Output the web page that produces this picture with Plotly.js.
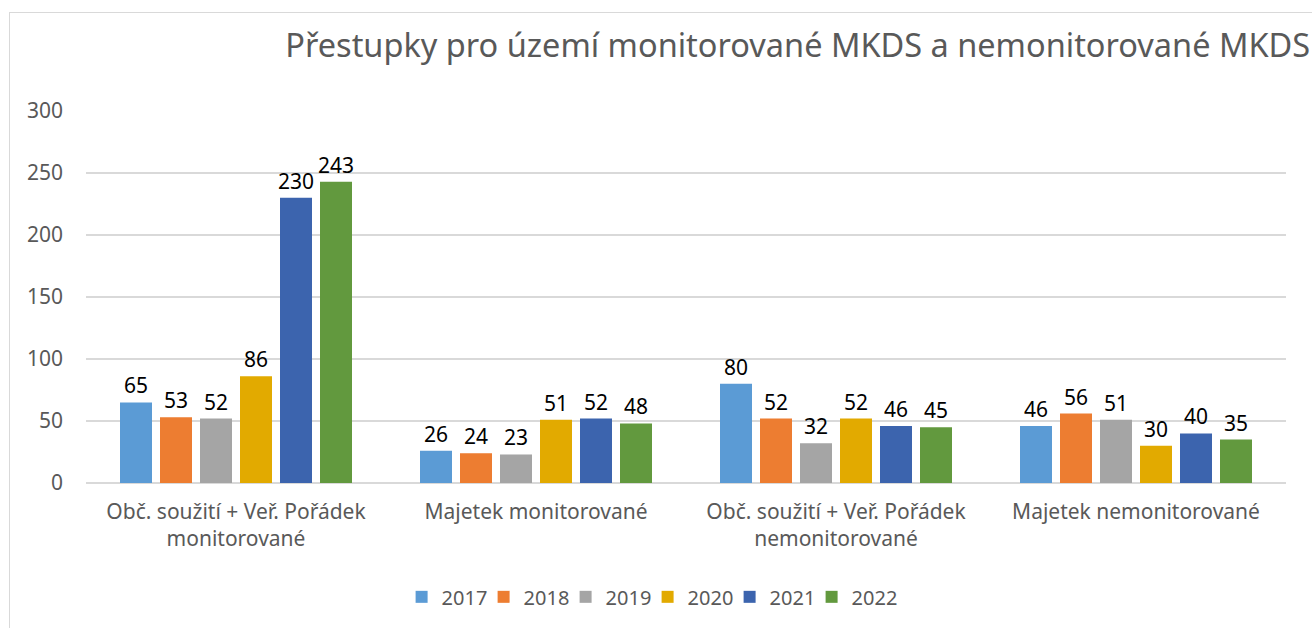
<!DOCTYPE html>
<html>
<head>
<meta charset="utf-8">
<script src="https://cdn.plot.ly/plotly-3.0.1.min.js"></script>
<style>
html,body{margin:0;padding:0;background:#fff;}
#frame{position:absolute;left:9px;top:12px;width:1310px;height:620px;border-left:1px solid #d9d9d9;border-top:1px solid #d9d9d9;}
#chart{position:absolute;left:0;top:0;width:1312px;height:628px;}
</style>
</head>
<body>
<div id="frame"></div>
<div id="chart"></div>
<script>
const categories = [
  "Obč. soužití + Veř. Pořádek<br>monitorované",
  "Majetek monitorované",
  "Obč. soužití + Veř. Pořádek<br>nemonitorované",
  "Majetek nemonitorované"
];
const years = ["2017","2018","2019","2020","2021","2022"];
const v2017 = [65, 26, 80, 46];
const v2018 = [53, 24, 52, 56];
const v2019 = [52, 23, 32, 51];
const v2020 = [86, 51, 52, 30];
const v2021 = [230, 52, 46, 40];
const v2022 = [243, 48, 45, 35];
const series = [v2017, v2018, v2019, v2020, v2021, v2022];
const colors = ["#5B9BD5","#ED7D31","#A5A5A5","#E2AA00","#3C64AE","#62993E"];
const FONT = "Noto Sans, Open Sans, sans-serif";

const traces = series.map((vals, i) => ({
  type: "bar",
  name: years[i],
  x: categories,
  y: vals,
  marker: {color: colors[i]},
  text: vals.map(String),
  textposition: "outside",
  constraintext: "none",
  textfont: {family: FONT, size: 21, color: "#000"},
  cliponaxis: false,
  hoverinfo: "x+y+name"
}));

const layout = {
  width: 1312, height: 628,
  paper_bgcolor: "rgba(0,0,0,0)",
  plot_bgcolor: "rgba(0,0,0,0)",
  margin: {l: 86, r: 26, t: 111, b: 145},
  barmode: "group",
  bargap: 0.2,
  bargroupgap: 0.2,
  font: {family: FONT, color: "#595959", size: 20},
  title: {
    text: "Přestupky pro území monitorované MKDS a nemonitorované MKDS",
    font: {family: FONT, size: 32.5, color: "#595959"},
    xref: "container", x: 0.608, xanchor: "center",
    yref: "container", y: 0.928, yanchor: "middle"
  },
  xaxis: {
    showgrid: false, zeroline: false, showline: false,
    ticks: "", ticklabelstandoff: 14,
    tickfont: {family: FONT, size: 21, color: "#595959"}
  },
  yaxis: {
    range: [0, 300], dtick: 50, tick0: 0,
    showgrid: true, gridcolor: "#d9d9d9", gridwidth: 1.5,
    zeroline: true, zerolinecolor: "#d9d9d9", zerolinewidth: 1.5,
    showline: false, ticks: "", ticklabelstandoff: 22,
    tickfont: {family: FONT, size: 21, color: "#595959"}
  },
  showlegend: true,
  legend: {
    orientation: "h",
    x: 0.468, xanchor: "center",
    y: -0.306, yanchor: "middle",
    font: {family: FONT, size: 20, color: "#595959"},
    itemwidth: 30,
    entrywidth: 37, entrywidthmode: "pixels",
    bgcolor: "rgba(0,0,0,0)"
  }
};

function unclipLegend() {
  document.querySelectorAll("#chart .legend .scrollbox, #chart .legend").forEach(el => {
    el.removeAttribute("clip-path");
  });
}
Plotly.newPlot("chart", traces, layout, {displayModeBar: false, staticPlot: true}).then(gd => {
  unclipLegend();
  gd.on("plotly_afterplot", unclipLegend);
});
</script>
</body>
</html>
